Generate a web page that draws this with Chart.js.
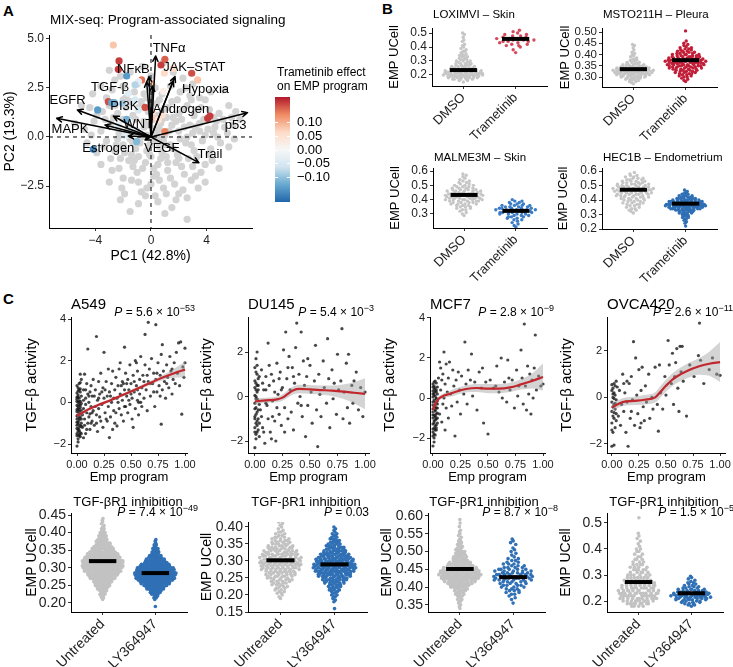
<!DOCTYPE html>
<html>
<head>
<meta charset="utf-8">
<script src="https://cdn.jsdelivr.net/npm/chart.js@4.4.1/dist/chart.umd.min.js"></script>
<style>
  body { margin: 0; background: #fff; }
  #fig { position: relative; width: 733px; height: 667px; overflow: hidden; background: #fff;
         font-family: "Liberation Sans", Arial, sans-serif; }
  #fig canvas { position: absolute; }
  .tag { position: absolute; font-weight: bold; font-size: 15px; line-height: 16px; }
</style>
</head>
<body>
<div id="fig">
  <div class="tag" style="left:3px;top:3px">A</div>
  <div class="tag" style="left:382px;top:1px">B</div>
  <div class="tag" style="left:3px;top:291px">C</div>
</div>
<script>
// ===== Panel A: MIX-seq PCA =====
const pcaGray = [
  [-3.0,3.4],[-2.2,3.1],[-1.5,3.3],[-0.6,3.6],[0.9,3.8],[1.6,3.3],[-2.6,2.9],[2.3,3.0],
  [-4.2,2.2],[-3.6,2.6],[-2.8,2.4],[-2.0,2.6],[-1.2,2.3],[-0.5,2.2],[0.3,2.5],[0.8,2.2],[1.4,2.6],[2.1,2.3],
  [2.8,2.1],[3.5,2.0],[4.3,2.3],[-3.2,2.0],[-1.8,2.0],[5.2,2.4],
  [-5.0,1.6],[-4.4,1.5],[-3.5,1.3],[-3.0,1.6],[-2.4,1.2],[-1.8,1.5],[-1.3,1.1],[-0.7,1.8],[-0.2,1.3],[0.4,1.7],
  [0.9,1.4],[1.5,1.8],[2.0,1.2],[2.6,1.6],[3.1,1.1],[3.6,1.5],[4.2,1.4],[4.9,1.2],[5.6,1.6],[6.1,1.3],[-2.0,1.9],
  [1.1,1.0],[2.9,1.9],[-0.9,1.5],[0.5,1.1],[3.9,1.9],
  [-5.5,0.7],[-4.8,0.4],[-4.1,0.8],[-3.6,0.3],[-2.9,0.7],[-2.3,0.2],[-1.6,0.6],[-1.0,0.3],[-0.5,0.8],[0.2,0.4],
  [0.7,0.7],[1.3,0.3],[1.8,0.8],[2.4,0.5],[3.0,0.2],[3.5,0.7],[4.1,0.4],[4.7,0.8],[5.3,0.5],[5.9,0.6],[6.4,0.9],
  [-2.0,0.9],[-0.3,0.1],[1.0,0.1],[2.2,0.9],[2.8,0.6],[3.8,0.9],[4.5,0.2],
  [-4.6,-0.3],[-3.9,-0.8],[-3.2,-0.2],[-2.6,-0.7],[-2.0,-0.4],[-1.4,-0.9],[-0.8,-0.3],[-0.3,-0.7],[0.3,-0.2],
  [0.8,-0.8],[1.4,-0.4],[1.9,-0.9],[2.5,-0.3],[3.1,-0.7],[3.7,-0.2],[4.3,-0.6],[5.0,-0.3],[5.6,-0.5],[-1.1,-0.6],
  [0.6,-0.5],[2.1,-0.1],[-2.4,-0.1],
  [-3.6,-1.4],[-2.9,-1.1],[-2.3,-1.6],[-1.6,-1.2],[-1.0,-1.8],[-0.4,-1.3],[0.2,-1.6],[0.7,-1.1],[1.2,-1.7],
  [1.8,-1.3],[2.4,-1.9],[3.0,-1.5],[3.6,-1.8],[4.4,-1.2],[-1.3,-1.5],[0.4,-1.9],[2.0,-1.1],[4.9,-1.6],
  [-3.0,-2.3],[-2.1,-2.6],[-1.4,-2.2],[-0.7,-2.8],[0.0,-2.4],[0.6,-2.2],[1.1,-2.9],[1.7,-2.4],[2.3,-2.7],
  [2.9,-2.2],[3.4,-2.6],[-1.9,-2.9],[0.3,-3.0],
  [-2.2,-3.2],[-0.9,-3.4],[0.5,-3.3],[1.5,-3.6],[2.6,-3.1],[-1.5,-3.8],[1.0,-3.9],[2.6,-4.2],
  [-0.5,0.5],[0.5,-0.1],[-1.5,-0.1],[1.6,1.0],[-0.9,-1.0],[0.1,0.9],[1.0,-0.4],[-0.1,-0.9],
  [-2.5,-0.4],[-1.9,-0.8],[-1.2,-1.2],[-0.6,-1.6],[0.0,-1.0],[0.5,-1.4],[1.1,-1.0],[1.6,-0.6],[2.2,-1.5],
  [2.7,-1.1],[3.3,-1.0],[3.9,-1.4],[-1.7,0.3],[-0.7,0.0],[0.4,0.2],[0.9,-0.2],[1.5,0.6],[2.0,0.3],[2.6,0.0],
  [3.2,0.5],[3.9,0.1],[4.6,0.5],[-3.3,0.9],[-2.7,1.0],[-1.1,0.9],[-0.2,0.6],[0.6,0.4],[1.2,1.5],[2.3,1.4],
  [3.3,1.4],[4.5,1.0],[5.2,0.9],[-2.6,1.6],[-1.5,1.8],[-0.3,2.0],[0.6,1.9],[1.9,1.9],[2.5,2.5],[3.0,2.7],
  [-1.0,2.7],[0.0,3.1],[-3.9,1.1],[-4.3,0.1],[-3.4,-0.5],[-2.8,-1.7],[-2.0,-2.1],[-0.9,-2.3],[0.2,-2.0],
  [1.4,-2.1],[2.0,-2.9],[3.2,-2.0],[3.9,-2.3],[-0.3,-2.6],[0.9,-2.6],[1.8,-3.2],[-0.4,-3.0],[4.2,-0.9],
  [4.8,0.0],[5.5,0.2],[6.0,-0.1],[5.8,1.0],[-1.3,-0.3],[1.2,-1.3],[-0.1,-0.4],[0.8,0.9],[-2.2,-1.1],
  [2.9,-0.4],[3.5,0.3]
];
// [PC1, PC2, trametinib effect]
const pcaColored = [
  [-2.71,4.69,0.08],[-2.3,3.88,0.17],[-2.35,3.45,0.17],[-1.75,3.11,-0.14],[1.0,3.96,0.15],[0.72,3.67,0.17],
  [0.96,3.25,0.06],[2.93,3.25,0.16],[3.36,2.91,0.08],[-0.67,2.91,0.14],[-0.9,2.82,-0.03],[0.05,2.74,0.08],
  [-1.15,2.66,-0.08],[-1.63,2.23,-0.04],[-1.15,1.89,-0.05],[-3.07,1.8,0.16],[-2.83,1.75,-0.13],[-2.64,1.75,-0.12],
  [-3.84,1.38,-0.14],[-2.06,1.72,-0.09],[-0.43,1.51,0.16],[-0.91,1.38,-0.05],[-1.75,0.9,-0.12],[-2.35,0.61,-0.04],
  [-1.27,0.36,-0.04],[0.1,1.3,0.05],[0.1,0.95,0.08],[0.53,0.87,0.04],[0.82,1.12,0.05],[1.0,0.27,0.13],
  [4.08,0.95,0.17],[4.24,1.07,0.17],[-1.03,-0.24,-0.11],[-4.15,-0.63,-0.16],[-1.87,0.05,-0.04],[0.89,2.33,0.02],
  [-0.2,2.5,-0.03],[1.6,3.5,0.06]
];
const pathwayNames = ['TNFα','NFκB','TGF-β','JAK–STAT','Hypoxia','Androgen','PI3K','EGFR','MAPK','WNT','Estrogen','VEGF','Trail','p53'];
const pathwayTips = [[0.34,4.13],[-0.14,3.08],[-0.31,2.82],[1.73,3.08],[1.61,2.87],[0.1,2.6],[-2.71,1.07],
  [-5.3,1.38],[-6.79,0.95],[-3.31,0.61],[-1.63,0.05],[-0.43,-0.15],[3.45,-1.31],[6.95,1.24]];
const pathwayLabelAt = [[1.3,4.52],[-1.27,3.45],[-2.95,2.52],[3.12,3.55],[3.93,2.4],[2.16,1.43],[-1.92,1.58],
  [-6.0,1.85],[-5.83,0.39],[-0.91,0.65],[-3.07,-0.58],[0.77,-0.58],[4.24,-0.87],[6.09,0.61]];
const pcaXTicks = [-4, 0, 4];
const pcaYTicks = [-2.5, 0, 2.5, 5];
const effectTicks = [0.10, 0.05, 0.00, -0.05, -0.10];
const effectLimits = [-0.19, 0.19];
const rdbu = ['#2166ac','#67a9cf','#d1e5f0','#f7f7f7','#fddbc7','#ef8a62','#b2182b'];

// ===== Panel B: trametinib (binned scores: [first bin, bin step, counts]) =====
const bTitles = ['LOXIMVI – Skin', 'MSTO211H – Pleura', 'MALME3M – Skin', 'HEC1B – Endometrium'];
const bGroups = ['DMSO', 'Trametinib'];
const loxDmso = [0.15, 0.01, [1,2,5,8,10,11,10,9,8,7,6,5,4,4,3,3,3,2,2,2,2,1,2,1,1,1,1,1,0,1,1,0,1,0,1,1]];
const loxTram = [0.36, 0.01, [1,0,1,0,1,2,2,2,3,3,3,2,2,2,1,1,1]];
const mstoDmso = [0.27, 0.005, [1,1,2,3,3,4,5,6,7,8,9,9,9,8,8,6,5,4,3,3,2,2,2,1,1,1,1,1,1,0,1,0,1,0,1,1]];
const mstoTram = [0.28, 0.005, [1,1,1,1,2,2,2,3,3,3,4,4,5,5,6,6,6,6,6,6,6,5,5,4,4,3,3,3,2,2,2,1,1,1,1,0,1,0,0,0,0,0,0,0,0,1]];
const malmeDmso = [0.29, 0.01, [1,1,1,1,2,2,3,3,4,4,5,6,6,6,6,6,5,5,4,4,3,3,2,2,2,1,1,1,1,1]];
const malmeTram = [0.21, 0.01, [1,1,1,1,1,2,2,3,3,4,5,6,5,5,4,4,3,2,2,1]];
const hecDmso = [0.31, 0.01, [1,1,2,2,2,2,3,3,3,4,4,4,5,5,6,6,6,6,6,5,5,4,4,3,3,2,2,1,1]];
const hecTram = [0.22, 0.01, [1,0,1,1,1,2,2,3,3,4,5,7,10,12,14,14,13,11,9,7,5,4,3,2,1,1]];
const bCenters = [[0.235,0.458],[0.335,0.375],[0.433,0.322],[0.471,0.375]];

// ===== Panel C top: TGF-beta activity vs Emp program =====
const cLines = ['A549', 'DU145', 'MCF7', 'OVCA420'];
const cPMant = ['5.6', '5.4', '2.8', '2.6'];
const cPExp = ['−53', '−3', '−9', '−11'];
const a549Pts = [
  [0.00,-2.1],[0.01,-1.75],[0.02,-1.6],[0.00,-1.5],[0.03,-1.45],[0.01,-1.3],[0.02,-1.2],[0.00,-1.1],[0.04,-1.0],
  [0.01,-0.95],[0.02,-0.85],[0.00,-0.8],[0.03,-0.7],[0.01,-0.6],[0.02,-0.55],[0.00,-0.45],[0.04,-0.4],[0.01,-0.3],
  [0.03,-0.25],[0.00,-0.15],[0.02,-0.1],[0.01,0.0],[0.03,0.05],[0.00,0.15],[0.02,0.2],[0.04,0.3],[0.01,0.35],
  [0.00,0.45],[0.03,0.5],[0.02,0.6],[0.01,0.7],[0.00,0.8],[0.02,0.9],[0.04,1.1],[0.03,1.35],[0.01,-1.9],[0.03,-1.65],
  [0.02,-1.35],[0.04,-1.15],[0.00,-0.95],[0.03,-0.55],[0.04,-0.05],[0.01,0.25],[0.02,-0.35],[0.0,-0.65],[0.01,-1.4],
  [0.02,-0.75],[0.00,0.05],[0.03,0.65],[0.01,-0.2],
  [0.00,-1.6],[0.01,-1.05],[0.02,-0.45],[0.00,0.25],[0.03,0.95],[0.01,-0.7],[0.02,-1.55],[0.04,-0.8],[0.00,-1.25],
  [0.03,-0.15],[0.01,0.55],[0.02,0.05],[0.04,-1.5],[0.00,-0.35],[0.03,-1.1],
  [0.05,-1.2],[0.06,-0.3],[0.06,0.6],[0.07,-0.8],[0.07,1.35],[0.08,-1.5],[0.08,0.2],[0.09,-0.5],[0.09,0.9],
  [0.10,2.56],[0.10,-1.0],[0.11,0.0],[0.11,-0.7],[0.12,0.5],[0.12,-1.3],[0.13,-0.2],[0.13,0.8],[0.14,-0.9],
  [0.14,0.3],[0.15,-0.4],[0.15,1.1],[0.06,-1.7],[0.08,-0.1],[0.10,0.4],[0.12,-0.55],
  [0.05,-0.6],[0.06,0.1],[0.07,-1.1],[0.08,0.6],[0.09,-1.3],[0.11,0.3],[0.13,-1.0],[0.14,-0.5],
  [0.16,-1.1],[0.17,0.6],[0.18,3.16],[0.18,-0.6],[0.19,0.1],[0.19,-1.4],[0.20,1.0],[0.20,-0.3],[0.21,0.4],
  [0.22,-0.9],[0.22,1.4],[0.23,-0.1],[0.24,0.7],[0.24,-1.2],[0.25,2.4],[0.25,0.2],[0.26,-0.5],[0.27,1.0],
  [0.27,-0.8],[0.28,0.3],[0.29,-0.2],[0.29,1.6],[0.30,-1.69],[0.30,0.5],[0.17,-0.2],
  [0.16,0.3],[0.18,-1.0],[0.20,0.2],[0.21,-0.7],[0.23,0.5],[0.26,0.6],[0.28,-0.9],
  [0.31,-0.7],[0.32,0.9],[0.32,0.0],[0.33,1.5],[0.34,-0.4],[0.35,0.6],[0.35,-1.0],[0.36,1.2],[0.37,-1.13],
  [0.37,0.2],[0.38,0.8],[0.39,-0.3],[0.40,1.9],[0.40,0.4],[0.41,-0.6],[0.42,1.0],[0.42,0.1],[0.43,-0.9],
  [0.44,2.65],[0.44,0.6],[0.45,1.4],[0.45,-0.2],[0.33,-1.3],[0.39,1.6],[0.43,0.9],
  [0.31,0.3],[0.34,0.2],[0.36,-0.5],[0.38,0.0],[0.41,0.8],[0.44,-0.2],
  [0.46,0.3],[0.47,-0.5],[0.47,1.1],[0.48,0.6],[0.49,1.8],[0.49,-0.1],[0.50,0.9],[0.51,0.2],[0.51,-0.8],
  [0.52,1.3],[0.53,0.5],[0.54,2.0],[0.54,-0.3],[0.55,0.8],[0.56,1.5],[0.56,0.1],[0.57,-0.6],[0.58,1.1],
  [0.58,0.4],[0.59,2.2],[0.60,0.7],[0.60,-0.2],[0.52,-1.2],[0.55,1.9],[0.57,0.0],
  [0.46,0.9],[0.48,0.1],[0.50,0.4],[0.53,1.0],[0.56,0.6],[0.59,0.0],
  [0.61,1.3],[0.62,0.2],[0.63,3.26],[0.63,1.8],[0.64,0.6],[0.65,-0.4],[0.66,3.84],[0.66,1.0],[0.67,1.6],
  [0.68,0.3],[0.69,2.1],[0.70,0.9],[0.71,1.4],[0.72,-0.2],[0.73,3.73],[0.73,1.1],[0.74,0.5],[0.75,1.9],
  [0.76,0.8],[0.77,1.3],[0.78,-1.05],[0.78,2.3],[0.79,2.77],[0.79,0.6],[0.80,1.5],
  [0.62,1.0],[0.65,1.3],[0.68,0.9],[0.71,0.5],[0.74,1.4],[0.77,0.3],
  [0.81,1.0],[0.82,0.2],[0.83,1.8],[0.84,1.2],[0.85,0.7],[0.86,2.2],[0.87,1.5],[0.88,0.4],[0.89,1.1],
  [0.90,1.9],[0.91,0.9],[0.92,2.4],[0.93,1.4],[0.94,2.85],[0.95,0.8],[0.96,2.9],[0.97,-0.57],[0.98,1.7],
  [0.99,1.2],[1.00,2.6],[1.0,1.9],[0.83,0.9],[0.88,1.6]
];
const du145Pts = [
  [0.00,-2.3],[0.01,-1.9],[0.02,-1.6],[0.00,-1.4],[0.01,-1.2],[0.03,-1.0],[0.00,-0.9],[0.02,-0.7],[0.01,-0.5],
  [0.00,-0.3],[0.03,-0.2],[0.01,0.0],[0.02,0.2],[0.00,0.4],[0.01,0.6],[0.03,0.8],[0.02,1.0],[0.00,1.3],[0.01,1.7],
  [0.02,2.0],[0.03,-1.5],[0.01,-0.8],[0.02,-0.1],[0.00,0.7],[0.03,0.3],[0.01,-1.7],[0.02,-1.1],[0.00,-0.55],
  [0.03,0.5],[0.01,1.1],[0.04,-0.35],[0.04,0.9],[0.02,-1.3],[0.00,0.05],[0.04,-1.8],
  [0.00,-1.0],[0.01,-0.1],[0.02,0.5],[0.03,-0.6],[0.00,-1.6],[0.01,0.3],[0.02,1.4],[0.04,-1.2],
  [0.05,-0.6],[0.06,1.2],[0.07,-1.4],[0.08,0.3],[0.09,-2.1],[0.10,0.9],[0.11,-0.4],[0.12,2.4],[0.12,-1.0],
  [0.13,0.5],[0.14,-1.6],[0.15,1.0],[0.16,-0.2],[0.17,0.7],[0.18,-1.1],[0.19,-2.0],[0.20,1.5],[0.21,0.1],
  [0.22,-0.8],[0.23,1.1],[0.24,-1.3],[0.25,0.4],[0.26,2.1],[0.27,-0.5],[0.28,2.9],[0.29,0.8],[0.30,-1.0],
  [0.31,1.8],[0.32,0.3],[0.33,-0.7],[0.34,1.3],[0.35,-1.5],[0.36,0.6],[0.37,2.2],[0.38,3.3],[0.39,-0.3],
  [0.40,1.0],[0.41,0.0],[0.42,2.9],[0.43,-0.9],[0.44,1.6],[0.45,0.5],[0.46,-1.8],[0.47,0.9],[0.48,-0.4],
  [0.50,1.4],[0.51,0.2],[0.52,-1.2],[0.54,0.7],[0.55,2.3],[0.56,-0.6],[0.57,-2.25],[0.58,1.0],[0.59,0.1],
  [0.60,-0.9],[0.62,1.6],[0.63,0.4],[0.65,-0.3],[0.66,2.6],[0.67,0.8],[0.68,-1.4],[0.70,1.2],[0.71,-0.1],
  [0.72,0.6],[0.74,-0.8],[0.75,1.9],[0.76,0.3],[0.78,0.7],[0.79,3.05],[0.80,-1.0],[0.81,0.2],[0.83,1.5],
  [0.84,-0.5],[0.85,1.9],[0.86,-1.2],[0.88,0.5],[0.89,-0.3],[0.90,0.7],[0.92,1.1],[0.94,-0.6],[0.96,0.4],
  [0.98,-0.9],[1.00,0.2],[0.08,-1.6],[0.15,-1.9],[0.22,0.8],[0.30,1.3],[0.35,0.9],[0.42,-0.4],[0.48,1.7],
  [0.06,-0.9],[0.10,-0.3],[0.13,1.4],[0.16,-0.9],[0.20,-0.5],[0.24,0.3],[0.27,-1.6],[0.10,0.3],[0.18,0.2],[0.07,0.6]
];
const mcf7Pts = [
  [0.00,-2.4],[0.01,-2.0],[0.02,-1.85],[0.00,-1.7],[0.03,-1.6],[0.01,-1.5],[0.02,-1.4],[0.00,-1.3],[0.04,-1.25],
  [0.01,-1.15],[0.03,-1.05],[0.00,-1.0],[0.02,-0.9],[0.01,-0.85],[0.04,-0.75],[0.00,-0.7],[0.02,-0.6],[0.03,-0.5],
  [0.01,-0.45],[0.00,-0.35],[0.04,-0.3],[0.02,-0.2],[0.01,-0.1],[0.03,-0.05],[0.00,0.05],[0.02,0.1],[0.04,0.2],
  [0.01,0.25],[0.00,0.35],[0.03,0.4],[0.02,0.5],[0.01,0.6],[0.00,0.7],[0.03,0.75],[0.02,0.85],[0.05,1.0],
  [0.01,-1.8],[0.03,-1.35],[0.02,-1.1],[0.00,-0.55],[0.04,-0.15],[0.01,0.45],[0.03,-0.8],[0.02,-0.4],[0.00,-0.2],
  [0.04,0.55],[0.01,0.15],[0.02,-0.95],[0.03,0.3],[0.00,-1.55],
  [0.00,-1.9],[0.01,-1.25],[0.02,-0.65],[0.03,-0.25],[0.00,0.2],[0.01,0.8],[0.02,-1.6],[0.04,-0.5],[0.00,-0.85],
  [0.03,0.0],[0.01,-2.2],[0.02,0.35],[0.04,-1.0],[0.00,0.55],[0.03,-1.5],
  [0.06,1.8],[0.06,-0.8],[0.07,0.4],[0.07,1.5],[0.08,-1.2],[0.08,0.9],[0.09,-0.3],[0.09,1.2],[0.10,2.3],
  [0.10,0.0],[0.11,-1.6],[0.11,0.7],[0.12,1.7],[0.12,-0.5],[0.13,0.3],[0.14,1.0],[0.14,-1.0],[0.15,1.8],
  [0.16,0.2],[0.17,-0.4],[0.18,1.4],[0.19,0.6],[0.20,-1.9],[0.21,0.9],[0.22,-0.2],[0.23,1.3],[0.24,0.4],
  [0.25,-0.8],[0.26,1.1],[0.28,0.2],[0.29,2.8],[0.30,0.7],[0.31,-0.3],[0.32,1.4],[0.34,0.9],[0.35,2.2],
  [0.36,0.1],[0.38,0.8],[0.40,-0.6],[0.42,1.3],[0.44,0.5],[0.46,-1.25],[0.48,0.8],[0.50,-1.8],[0.52,0.9],
  [0.55,0.5],[0.58,1.6],[0.60,0.3],[0.62,2.0],[0.63,0.0],[0.65,0.8],[0.67,-0.2],[0.68,1.9],[0.70,0.4],
  [0.72,0.9],[0.74,-0.5],[0.76,1.4],[0.78,0.6],[0.80,2.4],[0.81,1.0],[0.82,-0.3],[0.83,3.7],[0.84,0.6],
  [0.86,1.6],[0.87,0.2],[0.88,1.2],[0.89,-0.8],[0.90,0.9],[0.92,1.5],[0.93,3.15],[0.94,0.4],[0.96,1.1],
  [0.98,0.6],[1.00,0.7],[0.91,0.0],[0.85,-0.6],[0.77,0.1],[0.69,1.0],[0.57,0.6],[0.45,1.5]
];
const ovcaPts = [
  [0.00,-2.1],[0.02,-2.05],[0.01,-1.5],[0.03,-1.3],[0.00,-1.1],[0.02,-0.9],[0.01,-0.8],[0.04,-0.7],[0.00,-0.6],
  [0.03,-0.5],[0.01,-0.4],[0.02,-0.3],[0.00,-0.2],[0.04,-0.1],[0.01,0.0],[0.03,0.1],[0.02,0.2],[0.00,0.3],
  [0.01,0.4],[0.03,0.5],[0.02,0.6],[0.04,0.7],[0.00,-1.4],[0.02,-0.65],[0.01,0.15],[0.03,-0.25],[0.05,0.45],
  [0.04,-1.0],[0.00,0.55],[0.02,-0.05],
  [0.06,-0.8],[0.07,0.3],[0.08,-1.2],[0.09,-0.3],[0.10,1.0],[0.11,-0.6],[0.12,0.2],[0.13,-1.5],[0.14,-0.2],
  [0.15,-2.1],[0.16,0.6],[0.17,-0.9],[0.18,0.9],[0.19,-0.1],[0.20,2.4],[0.21,-1.2],[0.22,1.7],[0.23,0.1],
  [0.24,-0.7],[0.25,1.2],[0.26,-1.3],[0.27,0.3],[0.28,1.3],[0.29,-0.4],[0.30,-1.0],[0.31,0.5],[0.32,-0.2],
  [0.34,1.0],[0.35,-0.9],[0.37,0.0],[0.38,-0.5],[0.40,1.3],[0.42,-0.3],[0.43,-1.45],[0.44,1.4],[0.45,0.2],
  [0.47,-0.5],[0.49,0.9],[0.50,0.1],[0.52,2.45],[0.53,1.4],[0.55,0.6],[0.56,1.9],[0.57,-0.3],[0.58,0.9],
  [0.59,1.5],[0.60,2.1],[0.61,0.4],[0.62,-0.6],[0.63,2.2],[0.64,1.1],[0.65,2.2],[0.66,0.7],[0.69,-0.8],
  [0.72,1.4],[0.76,0.9],[0.80,1.8],[0.81,3.2],[0.82,1.6],[0.85,0.6],[0.90,1.2],[0.93,1.7],[0.97,1.0],
  [1.00,0.95],[0.18,-0.6],[0.11,0.6],[0.27,-1.1],[0.14,0.7]
];
// loess fit and 95% band
const a549Fit = { x: [0,0.1,0.2,0.3,0.4,0.5,0.6,0.7,0.8,0.9,1.0],
  y:  [-0.65,-0.35,-0.12,0.08,0.3,0.52,0.75,0.98,1.2,1.4,1.57],
  lo: [-0.77,-0.43,-0.19,0.01,0.23,0.44,0.66,0.88,1.07,1.18,1.19],
  hi: [-0.53,-0.27,-0.05,0.15,0.37,0.6,0.84,1.08,1.33,1.62,1.95] };
const du145Fit = { x: [0,0.1,0.2,0.25,0.3,0.35,0.4,0.5,0.6,0.7,0.8,0.9,1.0],
  y:  [-0.22,-0.17,-0.13,-0.05,0.12,0.28,0.34,0.32,0.29,0.26,0.22,0.17,0.12],
  lo: [-0.36,-0.28,-0.26,-0.19,-0.04,0.1,0.15,0.12,0.08,0.02,-0.1,-0.3,-0.58],
  hi: [-0.08,-0.06,0.0,0.09,0.28,0.46,0.53,0.52,0.5,0.5,0.54,0.64,0.82] };
const mcf7Fit = { x: [0,0.02,0.05,0.1,0.15,0.2,0.3,0.4,0.5,0.6,0.7,0.8,0.9,1.0],
  y:  [-0.6,-0.3,-0.05,0.12,0.2,0.3,0.45,0.5,0.47,0.47,0.53,0.68,0.85,1.05],
  lo: [-0.82,-0.45,-0.17,0.0,0.06,0.13,0.27,0.3,0.24,0.24,0.3,0.42,0.48,0.38],
  hi: [-0.38,-0.15,0.07,0.24,0.34,0.47,0.63,0.7,0.7,0.7,0.76,0.94,1.22,1.72] };
const ovcaFit = { x: [0,0.05,0.1,0.2,0.3,0.4,0.45,0.5,0.55,0.6,0.7,0.8,0.9,1.0],
  y:  [-0.45,-0.3,-0.2,-0.15,-0.1,0.0,0.25,0.5,0.73,0.9,1.15,1.33,1.45,1.52],
  lo: [-0.68,-0.47,-0.37,-0.33,-0.3,-0.22,0.0,0.24,0.46,0.62,0.84,0.98,0.93,0.66],
  hi: [-0.22,-0.13,-0.03,0.03,0.1,0.22,0.5,0.76,1.0,1.18,1.46,1.68,1.97,2.38] };
const empTicks = [0, 0.25, 0.5, 0.75, 1];

// ===== Panel C bottom: TGF-betaR1 inhibition =====
const dGroups = ['Untreated', 'LY364947'];
const dPMant = ['7.4', '0.03', '8.7', '1.5'];
const dPExp = ['−49', '', '−8', '−5'];
const a549Unt = [0.21, 0.005, [1,2,2,3,3,4,5,6,7,8,9,10,12,13,15,16,18,19,20,21,21,21,20,19,18,16,15,13,12,10,9,8,7,6,5,4,4,3,3,2,2,2,1,1,1,1,1]];
const a549Ly = [0.19, 0.005, [1,0,0,0,1,2,3,4,5,7,9,11,13,15,17,19,21,22,23,23,22,21,19,17,15,13,11,9,8,6,5,4,3,3,2,2,1,1,1]];
const du145Unt = [0.19, 0.005, [1,1,1,2,2,2,3,3,3,4,4,5,5,6,6,7,7,8,8,8,9,9,9,9,8,8,8,7,7,6,6,5,5,4,4,3,3,2,2,2,1,1,1,1,1,1,1]];
const du145Ly = [0.16, 0.005, [1,0,0,0,1,1,1,2,2,2,3,3,4,4,5,6,7,8,9,10,11,12,13,13,14,14,14,13,13,12,11,10,9,8,7,6,6,5,4,4,3,3,2,2,2,1,1,1,1]];
const mcf7Unt = [0.34, 0.005, [1,1,1,1,2,2,2,3,3,4,5,6,7,8,10,12,14,16,17,18,18,17,15,13,11,9,8,7,6,5,5,4,4,3,3,2,2,2,2,1,1,1,1,1,1,0,1,0,1,0,1]];
const mcf7Ly = [0.355, 0.005, [1,0,1,1,1,2,2,3,3,3,4,4,5,6,6,7,7,6,5,5,4,3,3,2,2,2,1,1,1,1,1,1,0,1,1,1,1]];
const ovcaUnt = [0.18, 0.01, [4,8,10,11,12,12,11,10,9,8,8,7,6,5,5,4,4,3,3,2,2,2,2,1,1,1,1,1,1,0,0,0,0,0,1]];
const ovcaLy = [0.18, 0.005, [1,2,3,3,4,5,6,7,7,7,6,5,5,4,3,3,2,2,2,1,1,1,1,1]];
const dCenters = [[0.319,0.285],[0.302,0.290],[0.451,0.428],[0.273,0.230]];

// ===== helpers =====
Chart.defaults.font.family = '"Liberation Sans", Arial, Helvetica, sans-serif';
Chart.defaults.color = '#222';
const FONT = '"Liberation Sans", Arial, Helvetica, sans-serif';
const fig = document.getElementById('fig');

const expand = bin => bin[2].flatMap((n, i) => Array(n).fill(+(bin[0] + i * bin[1]).toFixed(4)));
const fmt = d => v => (v < 0 ? '−' : '') + Math.abs(v).toFixed(d);
const pts = arr => arr.map(p => ({ x: p[0], y: p[1] }));

function hex(h) { return [1, 3, 5].map(i => parseInt(h.slice(i, i + 2), 16)); }
function effectColor(v) {
  const t = Math.min(1, Math.max(0, (v - effectLimits[0]) / (effectLimits[1] - effectLimits[0]))) * (rdbu.length - 1);
  const i = Math.min(rdbu.length - 2, Math.floor(t)), f = t - i;
  const a = hex(rdbu[i]), b = hex(rdbu[i + 1]);
  return 'rgb(' + a.map((c, k) => Math.round(c + (b[k] - c) * f)).join(',') + ')';
}

// quasirandom (van der Corput) offsets scaled by a gaussian kde, like ggbeeswarm
function vdc(n) {
  let v = 0, d = 1;
  while (n) { d *= 2; v += (n % 2) / d; n = Math.floor(n / 2); }
  return v;
}
function swarm(values, center, width) {
  const n = values.length;
  const mean = values.reduce((a, b) => a + b, 0) / n;
  const sd = Math.sqrt(values.reduce((a, b) => a + (b - mean) ** 2, 0) / (n - 1));
  const s = values.slice().sort((a, b) => a - b);
  const q = p => { const h = (n - 1) * p, lo = Math.floor(h); return s[lo] + (h - lo) * ((s[lo + 1] ?? s[lo]) - s[lo]); };
  const bw = 0.9 * Math.min(sd, (q(0.75) - q(0.25)) / 1.34 || sd) * Math.pow(n, -0.2);
  const dens = values.map(y => values.reduce((a, v) => a + Math.exp(-0.5 * ((y - v) / bw) ** 2), 0));
  const maxD = Math.max(...dens);
  const order = values.map((v, i) => i).sort((a, b) => values[a] - values[b] || a - b);
  const out = new Array(n);
  order.forEach((idx, rank) => {
    out[idx] = { x: center + (vdc(rank + 1) - 0.5) * 2 * dens[idx] / maxD * width, y: values[idx] };
  });
  return out;
}

function canvasAt(x, y, w, h) {
  const c = document.createElement('canvas');
  c.width = w; c.height = h;
  c.style.left = x + 'px'; c.style.top = y + 'px';
  c.style.width = w + 'px'; c.style.height = h + 'px';
  fig.appendChild(c);
  return c;
}
// box: canvas [x, y, w, h]; area: plot area [left, top, right, bottom], page pixels
function frame(box, area) {
  const [x, y, w, h] = box, [l, t, r, b] = area;
  return { canvas: canvasAt(x, y, w, h), yW: l - x, xH: y + h - b, padTop: t - y, padRight: x + w - r, x0: x, y0: y };
}
function axis(a, isX) {
  return {
    type: 'linear', min: a.min, max: a.max,
    afterBuildTicks: s => { s.ticks = a.ticks.map(v => ({ value: v })); },
    afterFit: s => { if (isX) s.height = a.size; else s.width = a.size; },
    ticks: { autoSkip: false, callback: a.fmt, color: '#222', padding: a.tickPad ?? 2,
             font: { size: a.font }, minRotation: a.rot || 0, maxRotation: a.rot || 0 },
    grid: { drawOnChartArea: false, drawTicks: true, tickLength: 3, color: '#333', lineWidth: 1 },
    border: { display: true, color: '#000', width: 1 },
    title: { display: !!a.title, text: a.title, color: '#000', font: { size: a.titleFont },
             padding: { top: a.titlePad || 0, bottom: a.titlePad || 0 } }
  };
}
function base(f) {
  return {
    responsive: false, animation: false, events: [],
    layout: { padding: { top: f.padTop, right: f.padRight, left: 0, bottom: 0 } },
    plugins: { legend: { display: false }, tooltip: { enabled: false } }
  };
}
function annot(f, fn, when = 'afterDraw') {
  return { id: 'annot' + when, [when]: chart => {
    const ctx = chart.ctx; ctx.save(); ctx.translate(-f.x0, -f.y0); fn(ctx, chart); ctx.restore();
  } };
}
function text(ctx, s, x, y, size, align = 'left', style = '') {
  ctx.font = `${style} ${size}px ${FONT}`;
  ctx.textAlign = align; ctx.textBaseline = 'middle'; ctx.fillStyle = '#000';
  ctx.fillText(s, x, y);
}
function pText(ctx, right, y, mant, exp, size) {
  const f = `${size}px ${FONT}`, fi = `italic ${f}`, fs = `${Math.round(size * 0.72)}px ${FONT}`;
  const body = ' = ' + mant + (exp ? ' × 10' : '');
  ctx.font = fi; const wP = ctx.measureText('P').width;
  ctx.font = f; const wB = ctx.measureText(body).width;
  ctx.font = fs; const wE = exp ? ctx.measureText(exp).width : 0;
  let x = right - wP - wB - wE;
  ctx.textAlign = 'left'; ctx.textBaseline = 'middle'; ctx.fillStyle = '#000';
  ctx.font = fi; ctx.fillText('P', x, y); x += wP;
  ctx.font = f; ctx.fillText(body, x, y); x += wB;
  if (exp) { ctx.font = fs; ctx.fillText(exp, x, y - size * 0.4); }
}

// ===== Panel A =====
(function () {
  const f = frame([0, 0, 380, 270], [49, 35, 252, 228]);
  const cbar = { x: 275, w: 15, top: 97, bottom: 202 };
  const arrows = annot(f, (ctx, chart) => {
    const sx = chart.scales.x, sy = chart.scales.y;
    const ox = sx.getPixelForValue(0) + f.x0, oy = sy.getPixelForValue(0) + f.y0;
    ctx.strokeStyle = '#000'; ctx.lineWidth = 1; ctx.setLineDash([4, 4]);
    ctx.beginPath();
    ctx.moveTo(ox, chart.chartArea.top + f.y0); ctx.lineTo(ox, chart.chartArea.bottom + f.y0);
    ctx.moveTo(chart.chartArea.left + f.x0, oy); ctx.lineTo(chart.chartArea.right + f.x0, oy);
    ctx.stroke(); ctx.setLineDash([]);
    ctx.lineWidth = 1.5; ctx.lineCap = 'round';
    pathwayTips.forEach(([tx, ty]) => {
      const px = sx.getPixelForValue(tx) + f.x0, py = sy.getPixelForValue(ty) + f.y0;
      const ang = Math.atan2(py - oy, px - ox);
      ctx.beginPath(); ctx.moveTo(ox, oy); ctx.lineTo(px, py);
      [-0.45, 0.45].forEach(da => {
        ctx.moveTo(px, py); ctx.lineTo(px - 6 * Math.cos(ang + da), py - 6 * Math.sin(ang + da));
      });
      ctx.stroke();
    });
    pathwayNames.forEach((name, i) => {
      const [lx, ly] = pathwayLabelAt[i];
      text(ctx, name, sx.getPixelForValue(lx) + f.x0, sy.getPixelForValue(ly) + f.y0, 13, 'center');
    });
  }, 'afterDatasetsDraw');
  const extras = annot(f, ctx => {
    text(ctx, 'MIX-seq: Program-associated signaling', 50, 20, 13.5);
    text(ctx, 'Trametinib effect', 277, 73, 12);
    text(ctx, 'on EMP program', 277, 87, 12);
    const g = ctx.createLinearGradient(0, cbar.bottom, 0, cbar.top);
    rdbu.forEach((c, i) => g.addColorStop(i / (rdbu.length - 1), c));
    ctx.fillStyle = g; ctx.fillRect(cbar.x, cbar.top, cbar.w, cbar.bottom - cbar.top);
    const py = v => cbar.bottom - (v - effectLimits[0]) / (effectLimits[1] - effectLimits[0]) * (cbar.bottom - cbar.top);
    ctx.strokeStyle = '#fff'; ctx.lineWidth = 1;
    effectTicks.forEach(v => {
      const y = Math.round(py(v)) + 0.5;
      ctx.beginPath(); ctx.moveTo(cbar.x, y); ctx.lineTo(cbar.x + 3, y);
      ctx.moveTo(cbar.x + cbar.w - 3, y); ctx.lineTo(cbar.x + cbar.w, y); ctx.stroke();
      text(ctx, fmt(2)(v), cbar.x + 22, y, 13);
    });
  });
  new Chart(f.canvas, {
    type: 'scatter',
    data: { datasets: [
      { data: pcaColored.map(p => ({ x: p[0], y: p[1] })), pointRadius: 3.6, borderWidth: 0,
        backgroundColor: pcaColored.map(p => effectColor(p[2])) },
      { data: pts(pcaGray), pointRadius: 3.6, borderWidth: 0, backgroundColor: '#d3d3d3' }
    ] },
    options: {
      ...base(f),
      scales: {
        x: axis({ min: -7.34, max: 7.27, ticks: pcaXTicks, fmt: fmt(0), font: 12, size: f.xH,
                  title: 'PC1 (42.8%)', titleFont: 14, titlePad: 5 }, true),
        y: axis({ min: -4.64, max: 5.2, ticks: pcaYTicks, fmt: fmt(1), font: 12, size: f.yW,
                  title: 'PC2 (19.3%)', titleFont: 14, titlePad: 1.5 }, false)
      }
    },
    plugins: [arrows, extras]
  });
})();

// ===== swarm panels (B and C bottom) =====
function swarmPlot(f, o) {
  const sets = [];
  o.values.forEach((vals, g) => sets.push({ type: 'line', data: [
    { x: g + 0.74, y: o.centers[g] }, { x: g + 1.26, y: o.centers[g] }],
    borderColor: '#000', borderWidth: 4, pointRadius: 0, order: 0 }));
  o.values.forEach((vals, g) => sets.push({ type: 'scatter', data: swarm(vals, g + 1, 0.4),
    pointRadius: o.r, borderWidth: 0, backgroundColor: o.colors[g], order: 2 }));
  new Chart(f.canvas, {
    type: 'scatter',
    data: { datasets: sets },
    options: {
      ...base(f),
      scales: {
        x: axis({ min: 0.4, max: 2.6, ticks: [1, 2], fmt: v => o.groups[v - 1], font: o.xFont, rot: 45,
                  size: f.xH, tickPad: 1 }, true),
        y: axis({ min: o.yMin, max: o.yMax, ticks: o.yTicks, fmt: fmt(o.yDec), font: o.yFont, size: f.yW,
                  title: 'EMP UCell', titleFont: o.yTitleFont, titlePad: o.yTitlePad }, false)
      }
    },
    plugins: [annot(f, o.draw)]
  });
}

const bSpecs = [
  { box: [380, 0, 175, 150], area: [432, 28, 547, 86], vals: [loxDmso, loxTram], col: '#d44a5b',
    yMin: 0.121, yMax: 0.536, ticks: [0.2, 0.3, 0.4, 0.5], dec: 1, tPad: 7, ty: 15, tyFont: 12 },
  { box: [555, 0, 178, 150], area: [602, 28, 717, 87], vals: [mstoDmso, mstoTram], col: '#c21d37',
    yMin: 0.2556, yMax: 0.518, ticks: [0.3, 0.35, 0.4, 0.45, 0.5], dec: 2, tPad: 3, ty: 15, tyFont: 11.5 },
  { box: [380, 145, 175, 150], area: [433, 168, 547, 228], vals: [malmeDmso, malmeTram], col: '#3b7dc6',
    yMin: 0.2023, yMax: 0.621, ticks: [0.3, 0.4, 0.5, 0.6], dec: 1, tPad: 7.5, ty: 158, tyFont: 12 },
  { box: [555, 145, 178, 150], area: [602, 168, 717, 229], vals: [hecDmso, hecTram], col: '#2f6fb5',
    yMin: 0.2, yMax: 0.621, ticks: [0.2, 0.3, 0.4, 0.5, 0.6], dec: 1, tPad: 1, ty: 158, tyFont: 12 }
];
bSpecs.forEach((s, i) => {
  const f = frame(s.box, s.area);
  swarmPlot(f, {
    values: s.vals.map(expand), centers: bCenters[i], groups: bGroups, colors: ['#c6c6c6', s.col], r: 1.7,
    yMin: s.yMin, yMax: s.yMax, yTicks: s.ticks, yDec: s.dec, yFont: s.tyFont, xFont: 13,
    yTitleFont: 13, yTitlePad: s.tPad,
    draw: ctx => text(ctx, bTitles[i], s.area[0] + 1, s.ty, 11.5)
  });
});

const dSpecs = [
  { box: [0, 490, 200, 177], area: [71, 513, 187, 612], vals: [a549Unt, a549Ly],
    yMin: 0.1744, yMax: 0.4557, ticks: [0.2, 0.25, 0.3, 0.35, 0.4, 0.45], dec: 2, tPad: 23.5, pRight: 198, tx: 128 },
  { box: [195, 490, 183, 177], area: [248, 522, 367, 612], vals: [du145Unt, du145Ly],
    yMin: 0.15, yMax: 0.4147, ticks: [0.15, 0.2, 0.25, 0.3, 0.35, 0.4], dec: 2, tPad: 3.5, pRight: 369, tx: 306 },
  { box: [378, 490, 180, 177], area: [428, 513, 545, 612], vals: [mcf7Unt, mcf7Ly],
    yMin: 0.330, yMax: 0.6084, ticks: [0.35, 0.4, 0.45, 0.5, 0.55, 0.6], dec: 2, tPad: 0.5, pRight: 558, tx: 484 },
  { box: [558, 490, 175, 177], area: [607, 513, 723, 612], vals: [ovcaUnt, ovcaLy],
    yMin: 0.158, yMax: 0.538, ticks: [0.2, 0.3, 0.4, 0.5], dec: 1, tPad: 0, pRight: 734, tx: 664 }
];
dSpecs.forEach((s, i) => {
  const f = frame(s.box, s.area);
  swarmPlot(f, {
    values: s.vals.map(expand), centers: dCenters[i], groups: dGroups, colors: ['#c2c2c2', '#3070b5'], r: 1.8,
    yMin: s.yMin, yMax: s.yMax, yTicks: s.ticks, yDec: s.dec, yFont: 14, xFont: 14,
    yTitleFont: 14, yTitlePad: s.tPad,
    draw: ctx => {
      text(ctx, 'TGF-βR1 inhibition', s.tx, 502, 13, 'center');
      pText(ctx, s.pRight, 513, dPMant[i], dPExp[i], 12);
    }
  });
});

// ===== C top: trend panels =====
const cSpecs = [
  { box: [0, 295, 200, 190], area: [71, 317, 187, 453], pts: a549Pts, fit: a549Fit,
    x: [-0.0556, 1.0185], y: [-2.432, 4.096], ticks: [-2, 0, 2, 4], tPad: 23, pRight: 195 },
  { box: [195, 295, 183, 190], area: [248, 317, 371, 453], pts: du145Pts, fit: du145Fit,
    x: [-0.0625, 1.036], y: [-2.539, 3.573], ticks: [-2, 0, 2], tPad: 3, pRight: 374 },
  { box: [378, 295, 180, 190], area: [430, 317, 545, 453], pts: mcf7Pts, fit: mcf7Fit,
    x: [-0.027, 1.018], y: [-2.75, 4.05], ticks: [-2, 0, 2, 4], tPad: 3, pRight: 554 },
  { box: [558, 295, 175, 190], area: [607, 317, 728, 453], pts: ovcaPts, fit: ovcaFit,
    x: [-0.045, 1.055], y: [-2.39, 3.46], ticks: [-2, 0, 2], tPad: 0, pRight: 733 }
];
cSpecs.forEach((s, i) => {
  const f = frame(s.box, s.area);
  const line = key => s.fit.x.map((x, k) => ({ x, y: s.fit[key][k] }));
  new Chart(f.canvas, {
    type: 'scatter',
    data: { datasets: [
      { type: 'line', data: line('y'), borderColor: '#c1272d', borderWidth: 2.2, pointRadius: 0,
        cubicInterpolationMode: 'monotone', fill: false, order: 0 },
      { type: 'line', data: line('lo'), borderWidth: 0, borderColor: 'rgba(0,0,0,0)', pointRadius: 0,
        cubicInterpolationMode: 'monotone', fill: false, order: 1 },
      { type: 'line', data: line('hi'), borderWidth: 0, borderColor: 'rgba(0,0,0,0)', pointRadius: 0,
        cubicInterpolationMode: 'monotone', fill: '-1', backgroundColor: 'rgba(160,160,160,0.45)', order: 1 },
      { type: 'scatter', data: pts(s.pts), pointRadius: 1.6, borderWidth: 0,
        backgroundColor: 'rgba(25,25,25,0.8)', order: 3 }
    ] },
    options: {
      ...base(f),
      scales: {
        x: axis({ min: s.x[0], max: s.x[1], ticks: empTicks, fmt: fmt(2), font: 11, size: f.xH,
                  title: 'Emp program', titleFont: 13, titlePad: 0 }, true),
        y: axis({ min: s.y[0], max: s.y[1], ticks: s.ticks, fmt: fmt(0), font: 11, size: f.yW,
                  title: 'TGF-β activity', titleFont: 15, titlePad: s.tPad }, false)
      }
    },
    plugins: [annot(f, ctx => {
      text(ctx, cLines[i], s.area[0], 305, 15);
      pText(ctx, s.pRight, 313, cPMant[i], cPExp[i], 12);
    })]
  });
});
</script>
</body>
</html>
